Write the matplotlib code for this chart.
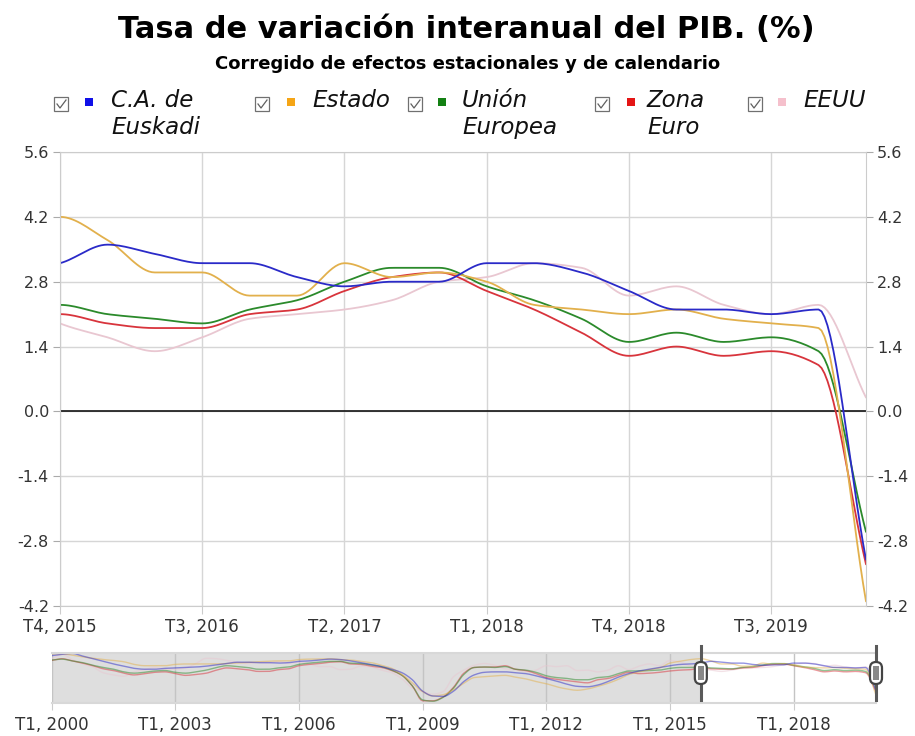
import numpy as np
import matplotlib
matplotlib.use("Agg")
import matplotlib.pyplot as plt
from matplotlib.patches import Rectangle, FancyBboxPatch
from matplotlib.lines import Line2D

# quarterly year-on-year GDP growth, T1 2000 .. T1 2020
first_year = 2000
window_start = 63    # T4, 2015 (first quarter shown in the main chart)

euskadi = [
    4.9, 5.2, 5.4, 4.8,  4.2, 3.6, 3.0, 2.5,  2.0, 1.8, 1.8, 2.0,  2.1, 2.2, 2.3, 2.5,
    2.8, 3.1, 3.4, 3.4,  3.3, 3.3, 3.2, 3.3,  3.6, 3.7, 3.9, 4.1,  4.0, 3.7, 3.3, 2.9,
    2.4, 1.8, 1.0, -0.6,  -3.2, -4.3, -4.4, -3.2,  -1.0, 0.5, 1.1, 1.2,  1.2, 1.0, 0.8, 0.3,
    -0.3, -0.9, -1.6, -2.1,  -2.2, -1.8, -1.0, 0.0,  0.8, 1.4, 1.8, 2.2,  2.6, 2.9, 3.0, 3.2,
    3.6, 3.4, 3.2, 3.2,  2.9, 2.7, 2.8, 2.8,  3.2, 3.2, 3.0, 2.6,  2.2, 2.2, 2.1, 2.2,
    -3.2]
estado = [
    5.3, 5.3, 5.0, 4.6,  4.3, 4.0, 3.8, 3.5,  2.9, 2.6, 2.6, 2.6,  2.9, 3.0, 3.0, 3.0,
    3.0, 3.1, 3.2, 3.3,  3.5, 3.6, 3.7, 3.7,  4.0, 4.1, 4.1, 4.2,  4.0, 3.9, 3.6, 3.3,
    2.7, 2.0, 0.6, -1.3,  -3.3, -4.3, -4.0, -2.9,  -1.4, -0.1, 0.1, 0.3,  0.4, 0.0, -0.4, -1.0,
    -1.5, -2.2, -2.7, -3.0,  -2.7, -2.1, -1.4, -0.5,  0.6, 1.2, 1.7, 2.1,  3.2, 3.6, 4.0, 4.2,
    3.7, 3.0, 3.0, 2.5,  2.5, 3.2, 2.9, 3.0,  2.8, 2.3, 2.2, 2.1,  2.2, 2.0, 1.9, 1.8,
    -4.1]
ue = [
    3.9, 4.1, 3.7, 3.3,  2.7, 2.2, 1.8, 1.2,  0.9, 1.1, 1.4, 1.5,  1.1, 0.9, 1.2, 1.6,
    2.2, 2.6, 2.4, 2.2,  1.8, 1.8, 2.1, 2.3,  2.9, 3.2, 3.4, 3.6,  3.6, 3.2, 3.1, 2.8,
    2.4, 1.6, 0.4, -2.0,  -5.2, -5.5, -4.6, -2.5,  0.6, 2.2, 2.3, 2.2,  2.4, 1.8, 1.6, 1.1,
    0.3, -0.1, -0.3, -0.6,  -0.6, -0.1, 0.1, 0.8,  1.4, 1.4, 1.5, 1.6,  2.0, 2.2, 2.2, 2.3,
    2.1, 2.0, 1.9, 2.2,  2.4, 2.8, 3.1, 3.1,  2.7, 2.4, 2.0, 1.5,  1.7, 1.5, 1.6, 1.3,
    -2.6]
zona_euro = [
    3.8, 4.2, 3.7, 3.2,  2.6, 1.9, 1.5, 0.9,  0.5, 0.8, 1.1, 1.2,  0.8, 0.4, 0.6, 0.9,
    1.6, 2.1, 1.9, 1.7,  1.3, 1.3, 1.7, 1.9,  2.6, 2.9, 3.1, 3.4,  3.5, 3.0, 2.9, 2.5,
    2.2, 1.5, 0.4, -2.0,  -5.4, -5.4, -4.5, -2.3,  0.9, 2.2, 2.3, 2.3,  2.6, 1.8, 1.5, 0.8,
    -0.1, -0.5, -0.8, -1.1,  -1.3, -0.6, -0.3, 0.4,  1.1, 0.8, 0.9, 1.1,  1.4, 1.6, 1.7, 2.1,
    1.9, 1.8, 1.8, 2.1,  2.2, 2.6, 2.9, 3.0,  2.6, 2.2, 1.7, 1.2,  1.4, 1.2, 1.3, 1.0,
    -3.3]
eeuu = [
    4.2, 5.2, 4.0, 3.0,  2.3, 1.0, 0.5, 0.2,  1.2, 1.7, 2.2, 1.9,  1.8, 2.1, 3.1, 4.3,
    4.2, 3.8, 3.4, 3.1,  3.3, 3.2, 3.5, 3.2,  3.4, 3.0, 2.4, 2.4,  1.7, 1.8, 2.5, 2.3,
    1.6, 1.0, -0.4, -2.5,  -3.3, -3.9, -3.3, 0.1,  1.6, 2.7, 3.1, 2.7,  1.9, 1.7, 1.2, 1.6,
    2.6, 2.4, 2.6, 1.5,  1.6, 1.2, 1.6, 2.6,  1.7, 2.5, 3.0, 2.6,  3.8, 3.4, 2.5, 1.9,
    1.6, 1.3, 1.6, 2.0,  2.1, 2.2, 2.4, 2.8,  2.9, 3.2, 3.1, 2.5,  2.7, 2.3, 2.1, 2.3,
    0.3]

names = ["C.A. de\nEuskadi", "Estado", "Unión\nEuropea", "Zona\nEuro", "EEUU"]
series = [euskadi, estado, ue, zona_euro, eeuu]
line_colors = ["#2a2ac8", "#e2b04c", "#2b8a2b", "#d8343c", "#e9c7d1"]
box_colors = ["#1010e8", "#f5a516", "#138013", "#e41515", "#f5c0cc"]
# legend layout (pixel x of checkbox, square, text)
leg_x = [(61, 89, 111), (262, 291, 312), (415, 442, 462), (602, 631, 647), (755, 782, 803)]

y_ticks = [-4.2, -2.8, -1.4, 0.0, 1.4, 2.8, 4.2, 5.6]

W, H = 915, 736


def qlabel(i):
    return "T%i, %i" % (i % 4 + 1, first_year + i // 4)


def smooth(x, y, n=16):
    # monotone cubic (Fritsch-Carlson) only used to draw the curve
    x = np.asarray(x, float)
    y = np.asarray(y, float)
    h = np.diff(x)
    d = np.diff(y) / h
    m = np.zeros_like(y)
    m[0], m[-1] = d[0], d[-1]
    for i in range(1, len(y) - 1):
        if d[i - 1] * d[i] <= 0:
            m[i] = 0.0
        else:
            w1 = 2 * h[i] + h[i - 1]
            w2 = h[i] + 2 * h[i - 1]
            m[i] = (w1 + w2) / (w1 / d[i - 1] + w2 / d[i])
    xs, ys = [], []
    for i in range(len(h)):
        t = np.linspace(0, 1, n, endpoint=False)
        h00 = 2 * t**3 - 3 * t**2 + 1
        h10 = t**3 - 2 * t**2 + t
        h01 = -2 * t**3 + 3 * t**2
        h11 = t**3 - t**2
        xs.append(x[i] + t * h[i])
        ys.append(h00 * y[i] + h10 * h[i] * m[i] + h01 * y[i + 1] + h11 * h[i] * m[i + 1])
    xs.append([x[-1]])
    ys.append([y[-1]])
    return np.concatenate(xs), np.concatenate(ys)


def fig_xy(px, py):
    return px / W, 1 - py / H


fig = plt.figure(figsize=(W / 100, H / 100), dpi=100)

fig.text(*fig_xy(466, 30), "Tasa de variación interanual del PIB. (%)",
         ha="center", va="center", fontsize=22, fontweight="bold")
fig.text(*fig_xy(468, 64), "Corregido de efectos estacionales y de calendario",
         ha="center", va="center", fontsize=13, fontweight="bold")

# legend
for name, col, (cx, sx, tx) in zip(names, box_colors, leg_x):
    bx, by = fig_xy(cx - 7, 111)
    fig.add_artist(Rectangle((bx, by), 14 / W, 14 / H, transform=fig.transFigure,
                             facecolor="white", edgecolor="#707070", lw=0.9))
    ckx = [cx - 4, cx - 1, cx + 5]
    cky = [104, 108, 100]
    fig.add_artist(Line2D([v / W for v in ckx], [1 - v / H for v in cky],
                          transform=fig.transFigure, color="#606060", lw=0.9))
    qx, qy = fig_xy(sx - 4, 106)
    fig.add_artist(Rectangle((qx, qy), 8 / W, 8 / H, transform=fig.transFigure,
                             facecolor=col, edgecolor="none"))
    fig.text(*fig_xy(tx, 89), name, ha="left", va="top", fontsize=16.5,
             fontstyle="italic", color="#111111", linespacing=1.22)

# main chart
ax = fig.add_axes([60 / W, 1 - 606 / H, 806 / W, 454 / H])
x_all = np.arange(len(euskadi))
for vals, col in list(zip(series, line_colors))[::-1]:
    sx_, sy_ = smooth(x_all, vals)
    ax.plot(sx_, sy_, color=col, lw=1.3, solid_capstyle="round")
ax.axhline(0, color="black", lw=1.1, zorder=1)
ax.set_xlim(window_start, len(euskadi) - 1)
ax.set_ylim(-4.2, 5.6)
main_ticks = list(range(window_start, len(euskadi) - 1, 3))
ax.set_xticks(main_ticks)
ax.set_xticklabels([qlabel(i) for i in main_ticks])
ax.set_yticks(y_ticks)
ax.set_yticklabels(["%.1f" % v for v in y_ticks])
ax.grid(True, color="#d6d6d6", lw=1.0)
ax.set_axisbelow(True)
for s in ax.spines.values():
    s.set_color("#cccccc")
ax.tick_params(axis="y", labelright=True, right=True, length=5, color="#aaaaaa",
               labelsize=11.5, labelcolor="#333333", pad=3)
ax.tick_params(axis="x", length=6, color="#cccccc", labelsize=12, labelcolor="#333333", pad=3)

# navigator
nav = fig.add_axes([51.7 / W, 1 - 703 / H, 824.3 / W, 50 / H])
nav.axvspan(0, window_start, color="#dedede", lw=0, zorder=0)
for vals, col in list(zip(series, line_colors))[::-1]:
    sx_, sy_ = smooth(x_all, vals, 6)
    nav.plot(sx_, sy_, color=col, lw=1.0, alpha=0.5, zorder=2)
nav.set_xlim(0, len(euskadi) - 1)
nav.set_ylim(-5.9, 5.5)
nav_ticks = list(range(0, len(euskadi) - 1, 12))
nav.set_xticks(nav_ticks)
nav.set_xticklabels([qlabel(i) for i in nav_ticks])
nav.set_yticks([])
nav.grid(True, axis="x", color="#c4c4c4", lw=1.0, zorder=1)
for s in ["left", "right"]:
    nav.spines[s].set_visible(False)
for s in ["top", "bottom"]:
    nav.spines[s].set_color("#d8d8d8")
    nav.spines[s].set_linewidth(1.5)
nav.tick_params(axis="x", length=5, color="#cccccc", labelsize=12, labelcolor="#333333", pad=4)

# navigator handles
for hx in [window_start, len(euskadi) - 1]:
    nav.axvline(hx, ymin=0.06, ymax=1.14, color="#5a5a5a", lw=2.2, clip_on=False, zorder=5)
    px_, py_ = nav.transData.transform((hx, 0))
    yc = nav.transAxes.transform((0, 0.6))[1]
    fig.add_artist(FancyBboxPatch((px_ - 6, yc - 11), 12, 22, transform=None,
                                  boxstyle="round,pad=0,rounding_size=6",
                                  facecolor="white", edgecolor="#444444", lw=1.6, zorder=6))
    fig.add_artist(Rectangle((px_ - 3, yc - 7), 6, 14, transform=None,
                             facecolor="#888888", edgecolor="none", zorder=7))

fig.savefig("out.png", dpi=100)
